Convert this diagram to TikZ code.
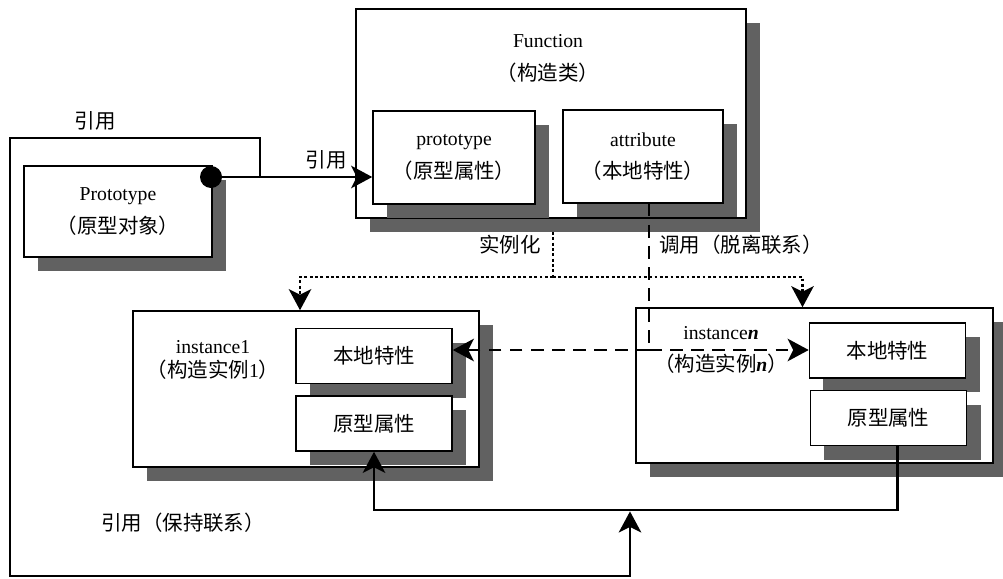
\documentclass[tikz,border=0pt]{standalone}
\usepackage{fontspec}
\setmainfont{Liberation Serif}
\newfontfamily\cjk{Noto Sans CJK SC}[Scale=1.04]
\usetikzlibrary{arrows.meta,shadows,calc}

\begin{document}
\begin{tikzpicture}[x=0.025cm, y=-0.025cm, line width=1.1pt,
    font=\fontsize{14}{16}\selectfont,
    box/.style={draw, fill=white, inner sep=0pt, align=center,
      drop shadow={shadow xshift=0.35cm, shadow yshift=-0.35cm, fill=black!62, opacity=1}},
    small/.style={box, minimum width=3.9cm, minimum height=1.375cm},
    caption/.style={align=center, inner sep=1pt},
    wire/.style={line width=2pt},
    link/.style={wire, -{Stealth[length=15pt, width=16pt, inset=4pt]}},
    instline/.style={wire, dash pattern=on 2pt off 1.8pt},
    callline/.style={wire, dash pattern=on 9pt off 6pt}]
  \useasboundingbox (0,0) rectangle (1003,578);
  % prototype object
  \node[box, minimum width=4.7cm, minimum height=2.275cm] (proto) at (118,211.5)
    {Prototype\\[7pt]\cjk （原型对象）};
  % constructor class
  \node[box, minimum width=9.75cm, minimum height=5.225cm] (func) at (551,113.5) {};
  \node[caption] (funcname) at (548,58.5) {Function\\[7pt]\cjk （构造类）};
  \node[box, minimum width=4.05cm, minimum height=2.325cm] (fproto) at (454,157.5)
    {prototype\\[7pt]\cjk （原型属性）};
  \node[box, minimum width=4.0cm, minimum height=2.325cm] (fattr) at (643,156.5)
    {attribute\\[7pt]\cjk （本地特性）};
  % instance 1
  \node[box, minimum width=8.65cm, minimum height=3.9cm] (inst1) at (306,389) {};
  \node[caption] (inst1name) at (213,360) {instance1\\[1pt]{\cjk （构造实例}1{\cjk ）}};
  \node[small] (i1local) at (374,356) {\cjk 本地特性};
  \node[small] (i1proto) at (374,423.5) {\cjk 原型属性};
  % instance n
  \node[box, minimum width=8.925cm, minimum height=3.875cm] (instn) at (814.5,385.5) {};
  \node[caption] (instnname) at (721,350) {instance\textit{\textbf{n}}\\[7pt]{\cjk （构造实例}\textit{\textbf{n}}{\cjk ）}};
  \node[small] (inlocal) at (887.5,350.5) {\cjk 本地特性};
  \node[small] (inproto) at (888.5,418) {\cjk 原型属性};
  % labels
  \node (refTop) at (95,121) {\cjk 引用};
  \node (refArrow) at (326,160) {\cjk 引用};
  \node (instLabel) at (510,245) {\cjk 实例化};
  \node (callLabel) at (741,245) {\cjk 调用（脱离联系）};
  \node (keepLabel) at (183,523) {\cjk 引用（保持联系）};
  % reference from the prototype object
  \node[circle, fill=black, inner sep=0pt, minimum size=0.55cm] (dot) at (211,177) {};
  \coordinate (branch) at (260,177);
  \coordinate (loopTL) at (10,138);
  \coordinate (loopBL) at (10,576);
  \coordinate (keep) at (630,510);
  \draw[link] (dot.center) -- (dot.center -| fproto.west);
  \draw[link, shorten >=1pt] (branch) |- (loopTL) -- (loopBL) -| (keep);
  % instantiation
  \coordinate (funcbot) at (553,232);
  \coordinate (fork) at (553,277);
  \draw[instline] (funcbot) -- (fork);
  \draw[link, instline] (fork) -| ($(inst1.north)+(-6,0)$);
  \draw[link, instline] (fork) -| ($(instn.north)+(-12,0)$);
  % call, detached
  \coordinate (callfork) at (649,350);
  \draw[callline] ($(fattr.south)+(6,0)$) -- (callfork);
  \draw[link, callline] (callfork) -- (callfork -| inlocal.west);
  \draw[link, callline] (callfork) -- (callfork -| i1local.east);
  % reference, kept
  \draw[link] ($(inproto.south)+(9,0)$) |- (keep) -| (i1proto.south);
\end{tikzpicture}
\end{document}
